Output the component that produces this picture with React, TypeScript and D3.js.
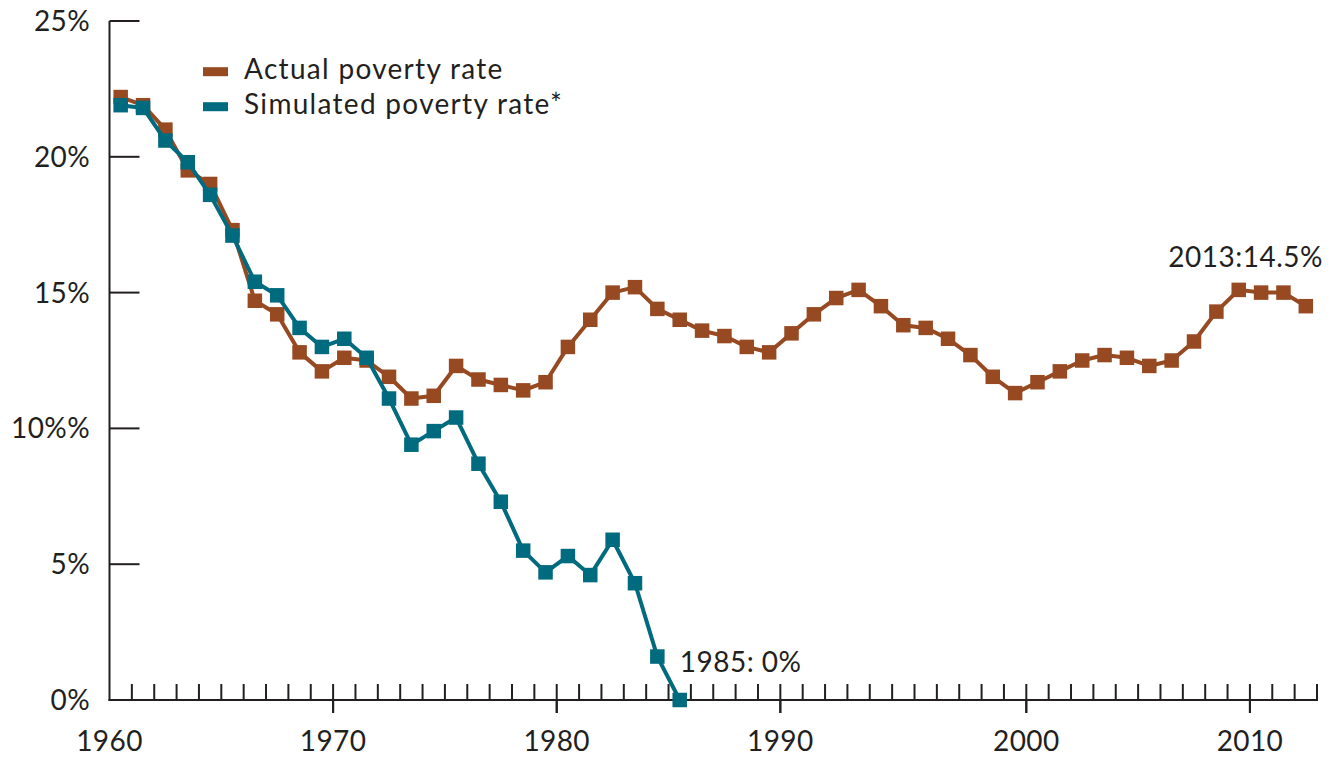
import React, { useEffect, useRef } from "react";
import * as d3 from "d3";

const years: number[] = d3.range(1960, 2014);

const actualRate: number[] = [
  22.2, 21.9, 21.0, 19.5, 19.0, 17.3, 14.7, 14.2, 12.8, 12.1,
  12.6, 12.5, 11.9, 11.1, 11.2, 12.3, 11.8, 11.6, 11.4, 11.7,
  13.0, 14.0, 15.0, 15.2, 14.4, 14.0, 13.6, 13.4, 13.0, 12.8,
  13.5, 14.2, 14.8, 15.1, 14.5, 13.8, 13.7, 13.3, 12.7, 11.9,
  11.3, 11.7, 12.1, 12.5, 12.7, 12.6, 12.3, 12.5, 13.2, 14.3,
  15.1, 15.0, 15.0, 14.5,
];

const simulatedYears: number[] = d3.range(1960, 1986);
const simulatedRate: number[] = [
  21.9, 21.8, 20.6, 19.8, 18.6, 17.1, 15.4, 14.9, 13.7, 13.0,
  13.3, 12.6, 11.1, 9.4, 9.9, 10.4, 8.7, 7.3, 5.5, 4.7,
  5.3, 4.6, 5.9, 4.3, 1.6, 0.0,
];

const seriesNames: string[] = ["Actual poverty rate", "Simulated poverty rate*"];
const seriesColors: string[] = ["#974921", "#006A7E"];

const yTickValues: number[] = [0, 5, 10, 15, 20, 25];
const yTickLabels: string[] = ["0%", "5%", "10%%", "15%", "20%", "25%"];

// major x ticks: label text and the tick boundary (year edge) where the reference places it
const xTickLabels: string[] = ["1960", "1970", "1980", "1990", "2000", "2010"];
const xTickEdges: number[] = [1960, 1970, 1980, 1990, 2001, 2011];

const annotations = [
  { text: "1985: 0%", year: 1985, value: 0 },
  { text: "2013:14.5%", year: 2013, value: 14.5 },
];

const W = 1335;
const H = 757;
const TEXT = "#231F20";
const FONT = "Lato, 'Open Sans', sans-serif";

export default function App() {
  const ref = useRef<SVGSVGElement | null>(null);

  useEffect(() => {
    const svg = d3.select(ref.current);
    svg.selectAll("*").remove();

    const left = 109.5;
    const right = 1317;
    const top = 21;
    const bottom = 700;

    const x = d3.scaleLinear().domain([1960, 2014]).range([left, right]);
    const y = d3.scaleLinear().domain([0, 25]).range([bottom, top]);
    const cx = (yr: number) => x(yr + 0.5);

    const g = svg.append("g");

    // y axis
    g.append("line")
      .attr("x1", left).attr("x2", left)
      .attr("y1", y(25)).attr("y2", bottom + 1)
      .attr("stroke", TEXT).attr("stroke-width", 2);
    yTickValues.forEach((v, i) => {
      g.append("line")
        .attr("x1", left).attr("x2", left + 30)
        .attr("y1", y(v)).attr("y2", y(v))
        .attr("stroke", TEXT).attr("stroke-width", 2);
      g.append("text")
        .attr("x", 90).attr("y", y(v) + 10)
        .attr("text-anchor", "end")
        .attr("font-family", FONT).attr("font-size", 28)
        .attr("letter-spacing", 0.4)
        .attr("fill", TEXT)
        .text(yTickLabels[i]);
    });

    // x axis
    g.append("line")
      .attr("x1", left - 1).attr("x2", right + 1)
      .attr("y1", bottom).attr("y2", bottom)
      .attr("stroke", TEXT).attr("stroke-width", 2);
    d3.range(1961, 2015).forEach((edge) => {
      const major = xTickEdges.includes(edge);
      g.append("line")
        .attr("x1", x(edge)).attr("x2", x(edge))
        .attr("y1", bottom - 16).attr("y2", major ? bottom + 13 : bottom)
        .attr("stroke", TEXT).attr("stroke-width", 2);
    });
    xTickLabels.forEach((lab, i) => {
      const edge = xTickEdges[i];
      if (edge !== 1960) {
        g.append("line")
          .attr("x1", x(edge)).attr("x2", x(edge))
          .attr("y1", bottom).attr("y2", bottom + 13)
          .attr("stroke", TEXT).attr("stroke-width", 2);
      }
      g.append("text")
        .attr("x", x(edge)).attr("y", 751)
        .attr("text-anchor", "middle")
        .attr("font-family", FONT).attr("font-size", 28)
        .attr("letter-spacing", 0.4)
        .attr("fill", TEXT)
        .text(lab);
    });

    const line = d3.line<[number, number]>()
      .x((d) => cx(d[0]))
      .y((d) => y(d[1]));

    const series: [number, number][][] = [
      years.map((yr, i) => [yr, actualRate[i]] as [number, number]),
      simulatedYears.map((yr, i) => [yr, simulatedRate[i]] as [number, number]),
    ];

    series.forEach((data, si) => {
      const sg = g.append("g");
      sg.append("path")
        .datum(data)
        .attr("d", line)
        .attr("fill", "none")
        .attr("stroke", seriesColors[si])
        .attr("stroke-width", 4)
        .attr("stroke-linejoin", "round");
      const s = 14.5;
      sg.selectAll("rect")
        .data(data)
        .join("rect")
        .attr("x", (d) => cx(d[0]) - s / 2)
        .attr("y", (d) => y(d[1]) - s / 2)
        .attr("width", s)
        .attr("height", s)
        .attr("fill", seriesColors[si]);
    });

    // legend
    seriesNames.forEach((name, i) => {
      const ly = 71.7 + i * 35;
      g.append("rect")
        .attr("x", 203).attr("y", ly - 4.5)
        .attr("width", 25).attr("height", 9)
        .attr("fill", seriesColors[i]);
      g.append("text")
        .attr("x", 244).attr("y", ly + 7)
        .attr("font-family", FONT).attr("font-size", 28)
        .attr("letter-spacing", 1.3)
        .attr("fill", TEXT)
        .text(name);
    });

    // annotations
    g.append("text")
      .attr("x", cx(annotations[0].year))
      .attr("y", y(annotations[0].value) - 28)
      .attr("font-family", FONT).attr("font-size", 28)
      .attr("letter-spacing", 0.5)
      .attr("fill", TEXT)
      .text(annotations[0].text);
    g.append("text")
      .attr("x", 1323)
      .attr("y", y(annotations[1].value) - 39)
      .attr("text-anchor", "end")
      .attr("font-family", FONT).attr("font-size", 28)
      .attr("letter-spacing", 0.5)
      .attr("fill", TEXT)
      .text(annotations[1].text);
  }, []);

  return (
    <svg
      ref={ref}
      width={W}
      height={H}
      style={{ position: "absolute", left: 0, top: 0, background: "#fff" }}
    />
  );
}
